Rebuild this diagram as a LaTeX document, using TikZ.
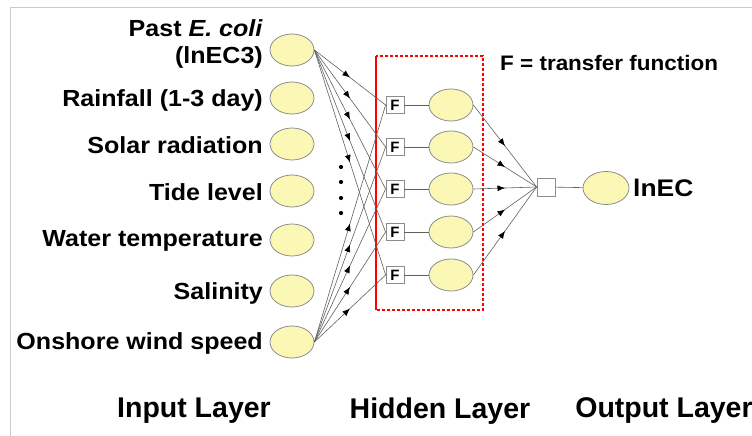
\documentclass[tikz,border=0pt]{standalone}
\usepackage{graphicx}
\usepackage{fontspec}
\setmainfont{Liberation Sans}
\usetikzlibrary{arrows.meta,decorations.markings,shapes.geometric}
\definecolor{nodefill}{HTML}{FBF8B6}
\definecolor{nodeline}{HTML}{8C8C8C}
\definecolor{edgecol}{HTML}{606060}
\newcommand{\xstretch}[1]{\scalebox{1.075}[1]{#1}}
\tikzset{
  neuron/.style={ellipse, draw=nodeline, fill=nodefill, line width=0.8pt, minimum width=44pt, minimum height=32pt, inner sep=0pt},
  fbox/.style={draw=nodeline, fill=white, line width=0.8pt, minimum width=18pt, minimum height=17pt, inner sep=0pt, font=\fontsize{15}{15}\selectfont\bfseries},
  obox/.style={draw=nodeline, fill=white, line width=0.8pt, minimum width=18pt, minimum height=18pt, inner sep=0pt},
  lbl/.style={anchor=east, inner sep=0pt, font=\fontsize{23.3}{27}\selectfont\bfseries, align=right},
  layerlbl/.style={inner sep=0pt, font=\fontsize{28.5}{30}\selectfont\bfseries},
  conn/.style={draw=edgecol, line width=0.6pt},
  midarrow/.style={conn, postaction={decorate}, decoration={markings, mark=at position 0.5 with {\arrow[black]{Latex[length=7.5pt,width=6pt]}}}},
}
\begin{document}
\begin{tikzpicture}[x=1pt,y=-1pt]
\useasboundingbox (0,0) rectangle (752,436);
% frame
\draw[color=black!20, line width=0.8pt] (10,436) -- (10,7) -- (752,7);
% red dashed hidden-layer box
\draw[red, line width=1.3pt, densely dashed] (376,56) rectangle (483,310);
\draw[red, line width=1.3pt] (376,56) -- (376,310);
% input neurons
\node[neuron] (i1) at (292,50) {};
\node[neuron] (i2) at (292,98) {};
\node[neuron] (i3) at (292,144) {};
\node[neuron] (i4) at (292,191) {};
\node[neuron] (i5) at (292,240) {};
\node[neuron] (i6) at (292,291) {};
\node[neuron] (i7) at (292,342) {};
% input labels
\node[lbl] (l1) at (263,44) {\xstretch{Past \textit{E. coli}}\\\xstretch{(lnEC3)}};
\node[lbl] (l2) at (263,100) {\xstretch{Rainfall (1-3 day)}};
\node[lbl] (l3) at (263,145) {\xstretch{Solar radiation}};
\node[lbl] (l4) at (263,192) {\xstretch{Tide level}};
\node[lbl] (l5) at (263,241) {\xstretch{Water temperature}};
\node[lbl] (l6) at (263,293) {\xstretch{Salinity}};
\node[lbl] (l7) at (263,343) {\xstretch{Onshore wind speed}};
% ellipsis dots
\foreach \yy [count=\k] in {167,182,198,213} \fill (341,\yy) circle (2.1pt);
% F boxes and hidden neurons
\foreach \yy [count=\k] in {105,147,189,232,275} {
  \node[fbox] (f\k) at (395,\yy) {F};
  \node[neuron] (h\k) at (451,\yy) {};
  \draw[conn] (f\k) -- (h\k);
}
% input to F connections
\foreach \k in {1,...,5} {
  \draw[midarrow] (i1.east) -- (f\k.west);
  \draw[midarrow] (i7.east) -- (f\k.west);
}
% output
\node[obox] (o) at (546,187) {};
\node[neuron, minimum width=46pt, minimum height=33pt] (out) at (606,188) {};
\draw[conn] (o) -- (out);
\foreach \k in {1,...,5} {
  \draw[midarrow] (h\k.east) -- (o.west);
}
\node[anchor=west, inner sep=0pt, font=\fontsize{24}{28}\selectfont\bfseries] (ln) at (633,188) {\scalebox{1.1}[1]{lnEC}};
% legend
\node[anchor=west, inner sep=0pt, font=\fontsize{21}{22}\selectfont\bfseries] (leg) at (500,63) {\scalebox{1.07}[1]{F = transfer function}};
% layer labels
\node[layerlbl] (t1) at (194,411) {Input Layer};
\node[layerlbl] (t2) at (440,411) {Hidden Layer};
\node[layerlbl] (t3) at (664,411) {Output Layer};
\end{tikzpicture}
\end{document}
